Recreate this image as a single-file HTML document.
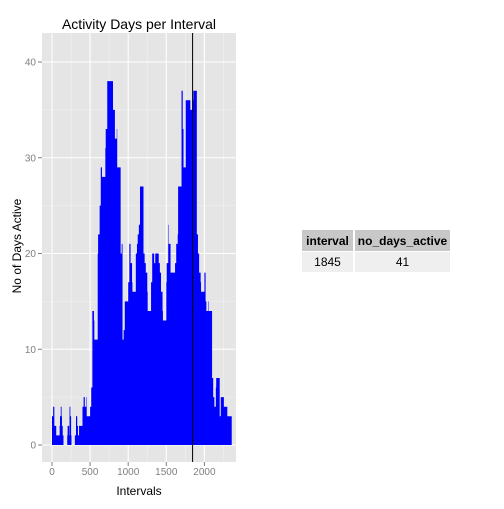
<!DOCTYPE html>
<html><head><meta charset="utf-8"><style>
body{margin:0;background:#fff;width:504px;height:504px;overflow:hidden;font-family:"Liberation Sans",sans-serif}
</style></head><body>
<svg width="504" height="504" xmlns="http://www.w3.org/2000/svg">
<rect x="0" y="0" width="504" height="504" fill="#fff"/>
<g id="panel"></g>
<text x="139" y="29" font-size="14" text-anchor="middle">Activity Days per Interval</text>
<text x="139" y="495" font-size="12" text-anchor="middle">Intervals</text>
<text transform="translate(21,246) rotate(-90)" font-size="12" text-anchor="middle">No of Days Active</text>
<g>
<rect x="302" y="230" width="51" height="21" fill="#c8c8c8"/>
<rect x="355" y="230" width="95" height="21" fill="#c8c8c8"/>
<rect x="302" y="252" width="51" height="20" fill="#efefef"/>
<rect x="355" y="252" width="95" height="20" fill="#efefef"/>
<text x="327.5" y="245" font-size="12" font-weight="bold" text-anchor="middle">interval</text>
<text x="402.5" y="245" font-size="12" font-weight="bold" text-anchor="middle">no_days_active</text>
<text x="327.5" y="266" font-size="12" text-anchor="middle">1845</text>
<text x="402.5" y="266" font-size="12" text-anchor="middle">41</text>
</g>
</svg>
<script>
const hourValues = [
[3,3,3,4,4,4,2,2,2,2,2,1],
[2,3,3,4,4,3,2,2,1,1,0,0],
[1,2,2,2,2,1,4,4,3,3,1,0],
[1,1,1,3,3,3,2,2,1,1,1,2],
[4,4,4,5,5,5,4,4,4,4,5,3],
[4,4,4,6,6,6,14,14,14,14,13,11],
[20,22,22,22,22,25,25,25,29,29,29,28],
[31,33,33,33,33,38,38,38,38,38,38,38],
[35,35,35,35,35,32,32,32,32,32,33,29],
[20,20,20,21,21,11,11,11,12,12,12,15],
[17,17,17,21,21,21,19,19,19,19,17,16],
[20,20,20,21,21,22,22,22,23,23,23,27],
[20,20,20,19,19,19,18,18,18,18,16,14],
[17,17,17,20,20,20,20,20,19,19,19,20],
[19,19,19,18,18,18,16,16,16,16,14,13],
[17,19,19,19,19,23,21,21,21,21,21,18],
[18,18,18,19,19,19,21,21,21,21,22,27],
[37,37,37,33,33,29,29,29,29,29,29,36],
[36,36,36,35,35,35,35,35,35,35,36,37],
[22,22,22,20,20,20,18,18,18,18,17,16],
[18,18,18,15,15,14,14,14,14,14,15,14],
[7,7,7,5,5,5,4,4,4,4,6,7],
[3,3,3,5,5,5,5,5,5,5,5,4],
[3,3,3,3,3,3,3,3,3,3,3,3]
];
const xTicks = [0,500,1000,1500,2000];
const yTicks = [0,10,20,30,40];
const markInterval = 1845;

const NS="http://www.w3.org/2000/svg";
const PL=42,PR=236,PT=33,PB=462;
const xs=u=>52+0.0762*u;
const ys=v=>445-9.575*v;
const g=document.getElementById('panel');
function mk(t,a){const e=document.createElementNS(NS,t);for(const k in a)e.setAttribute(k,a[k]);return e;}
const bg=mk('rect',{x:PL,y:PT,width:PR-PL,height:PB-PT,fill:'#e5e5e5'});


g.appendChild(bg);
for(let i=0;i<yTicks.length-1;i++){const m=(yTicks[i]+yTicks[i+1])/2;g.appendChild(mk('line',{x1:PL,x2:PR,y1:ys(m),y2:ys(m),stroke:'#f2f2f2','stroke-width':0.6}));}
for(let i=0;i<xTicks.length-1;i++){const m=(xTicks[i]+xTicks[i+1])/2;g.appendChild(mk('line',{x1:xs(m),x2:xs(m),y1:PT,y2:PB,stroke:'#f2f2f2','stroke-width':0.6}));}
g.appendChild(mk('line',{x1:xs(2250),x2:xs(2250),y1:PT,y2:PB,stroke:'#f2f2f2','stroke-width':0.6}));
yTicks.forEach(v=>{
  const l=mk('line',{x1:PL,x2:PR,y1:ys(v),y2:ys(v),stroke:'#fff','stroke-width':1.1});
  
  
  g.appendChild(l);
  g.appendChild(mk('line',{x1:PL-4,x2:PL,y1:ys(v),y2:ys(v),stroke:'#7f7f7f'}));
  const t=mk('text',{x:PL-6,y:ys(v)+3.5,'font-size':10,'text-anchor':'end',fill:'#7f7f7f'});
  t.textContent=v;
  
  
  g.appendChild(t);
});
xTicks.forEach(v=>{
  const l=mk('line',{x1:xs(v),x2:xs(v),y1:PT,y2:PB,stroke:'#fff','stroke-width':1.1});
  
  
  g.appendChild(l);
  g.appendChild(mk('line',{x1:xs(v),x2:xs(v),y1:PB,y2:PB+4,stroke:'#7f7f7f'}));
  const t=mk('text',{x:xs(v),y:PB+13,'font-size':10,'text-anchor':'middle',fill:'#7f7f7f'});
  t.textContent=v;
  
  
  g.appendChild(t);
});
const intervals=[],vals=[];
hourValues.forEach((arr,h)=>arr.forEach((v,m)=>{intervals.push(h*100+m*5);vals.push(v);}));
let d='';
for(let i=0;i<intervals.length;i++){
  const x0=xs(intervals[i]);
  const x1=i<intervals.length-1?xs(intervals[i+1]):xs(intervals[i]+3);
  const y=ys(vals[i]);
  d+=`M${x0.toFixed(2)},${ys(0)}V${y.toFixed(2)}H${(x1+0.05).toFixed(2)}V${ys(0)}Z`;
}
const bars=mk('path',{d:d,fill:'#0000ff'});


g.appendChild(bars);
const vl=mk('line',{x1:xs(markInterval),x2:xs(markInterval),y1:PT,y2:PB,stroke:'#000','stroke-width':1});


g.appendChild(vl);
</script>
</body></html>
